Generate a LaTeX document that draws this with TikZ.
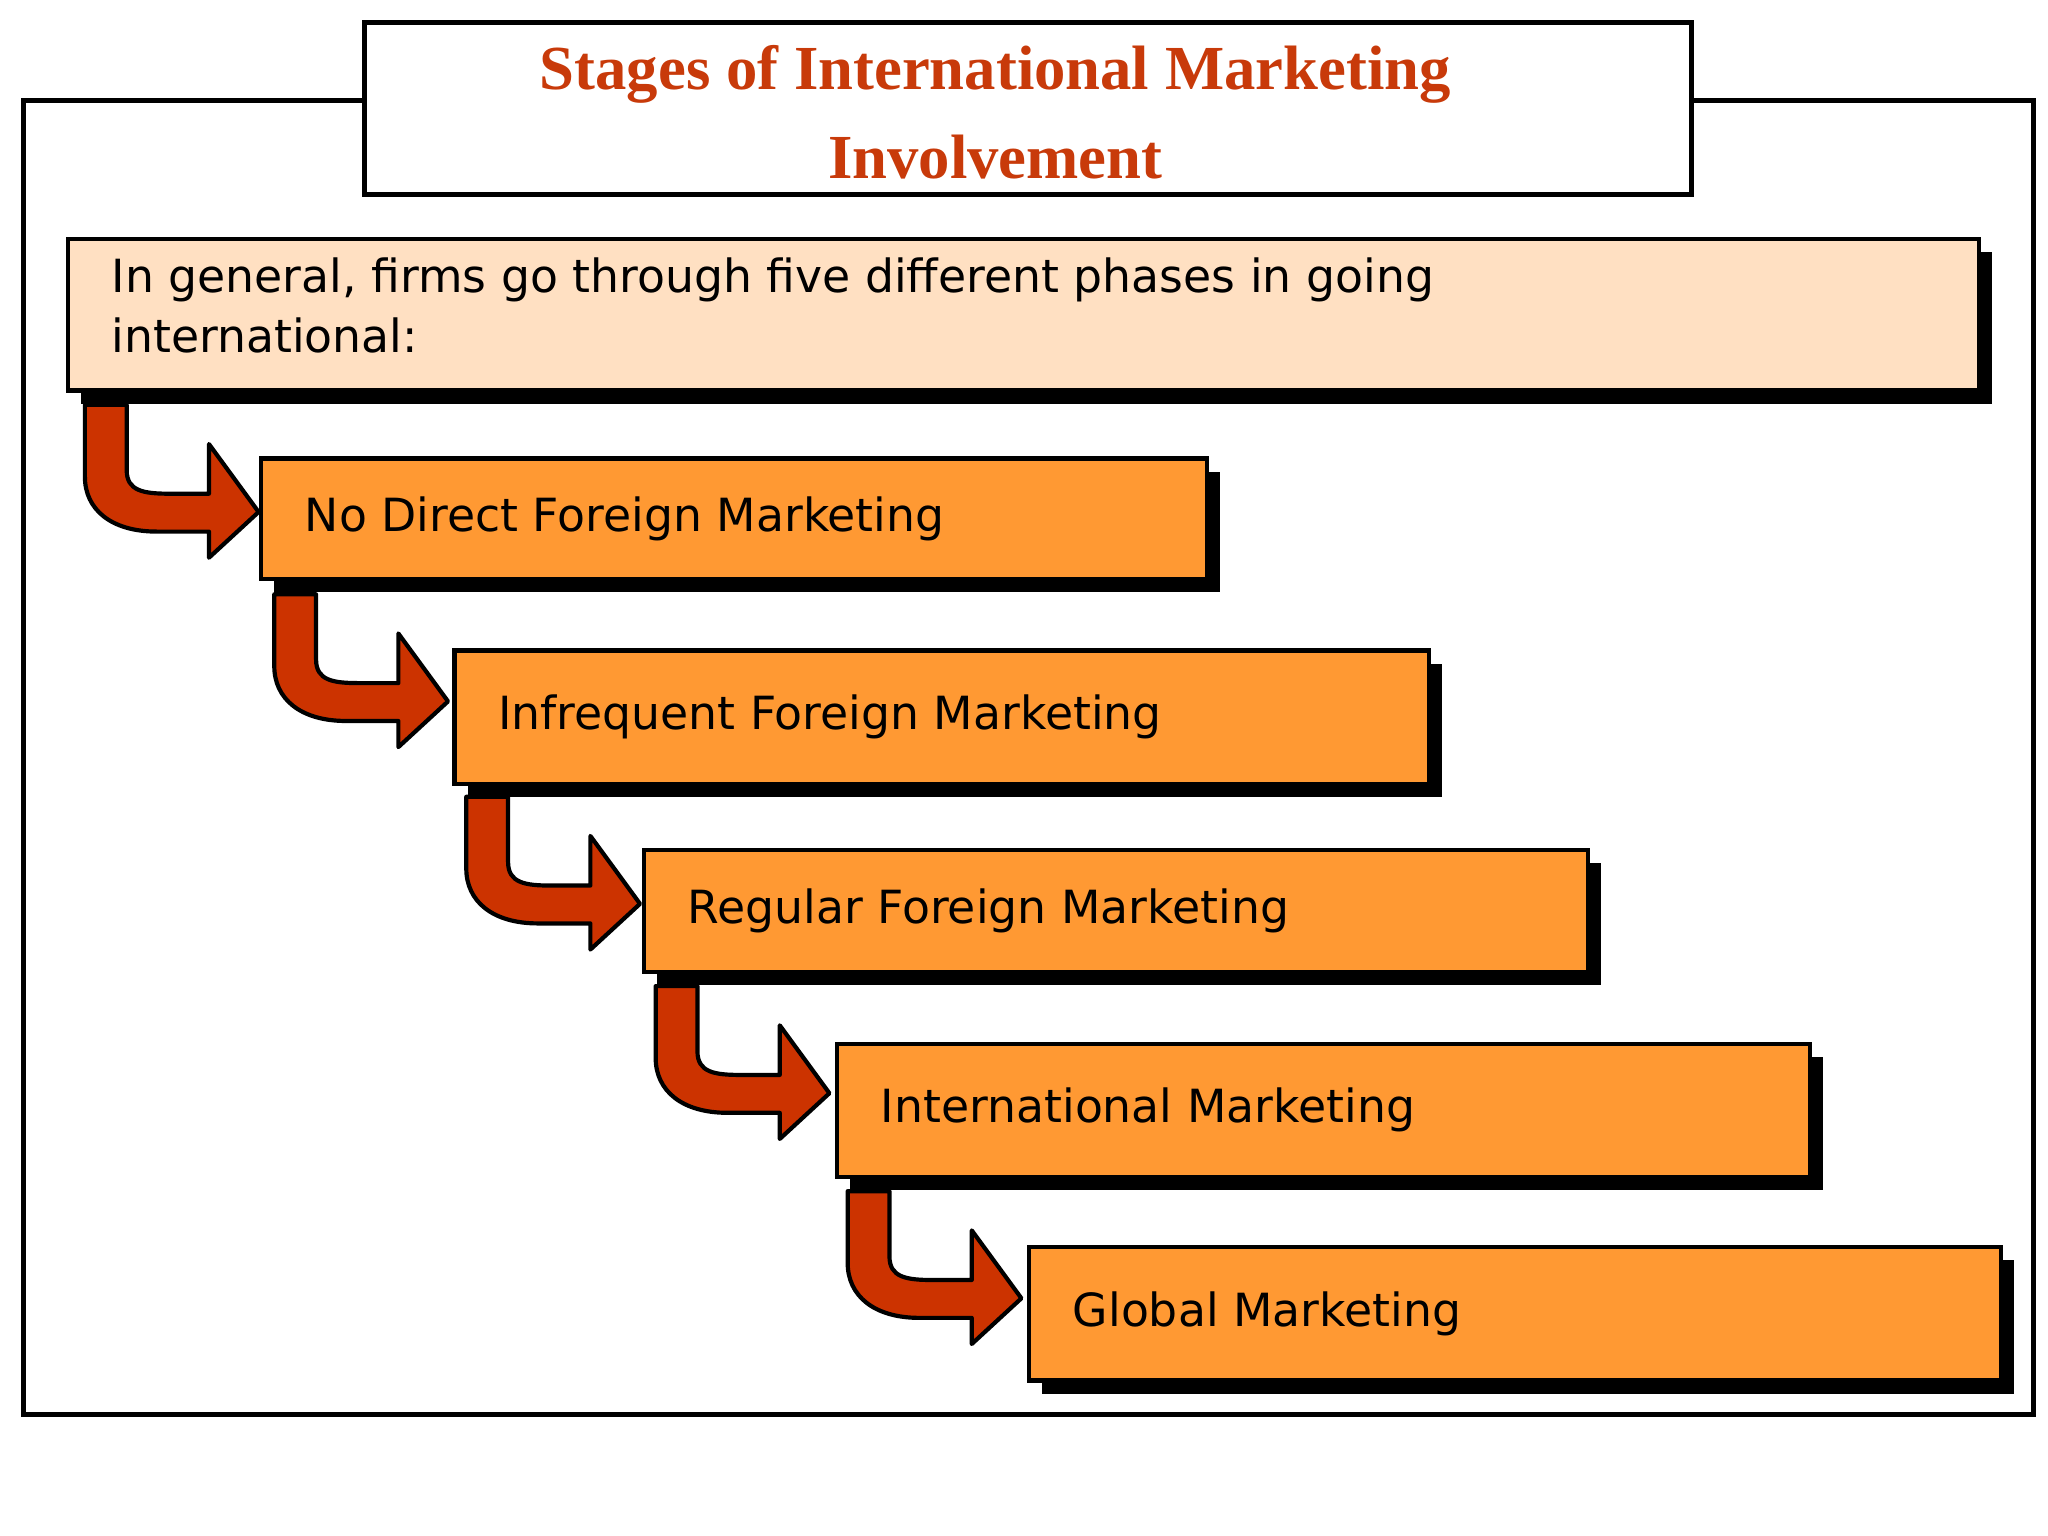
\documentclass[tikz,border=0pt]{standalone}
\usepackage{fontspec}
\setmainfont{DejaVu Sans}
\newfontfamily\titlefont{Liberation Serif}
\definecolor{boxor}{HTML}{FF9933}
\definecolor{peach}{HTML}{FFE0C2}
\definecolor{arrred}{HTML}{CC3300}
\definecolor{ttlred}{HTML}{C83A0A}
\tikzset{
  shad/.style={fill=black,draw=none},
  stagebox/.style={draw=black,line width=1.6pt,fill=boxor,anchor=north west,inner sep=0pt,
     font=\fontsize{17.5}{22}\selectfont,align=left,text width=#1},
  bendarrow/.style={fill=arrred,draw=black,line width=1.6pt,line join=round}
}
\newcommand{\bendarr}[2]{%
 \begin{scope}[shift={(#1,#2)}]
 \draw[bendarrow] (0,0) -- (32,0) -- (32,50) .. controls (32,66) and (45,68) .. (65,68)
   -- (95,68) -- (95,30) -- (133,82) -- (95,117) -- (95,97) -- (55,97)
   .. controls (20,97) and (0,80) .. (0,55) -- cycle;
 \end{scope}}
\begin{document}
\begin{tikzpicture}[x=0.5pt,y=-0.5pt]
\useasboundingbox[fill=white] (0,0) rectangle (1568,1176);
\draw[line width=2pt] (18,77) rectangle (1557,1083);
\draw[line width=2pt,fill=white] (279,17) rectangle (1295,149);
\node[font=\titlefont\bfseries\fontsize{24}{34}\selectfont,text=ttlred,align=center] (title) at (762,86) {Stages of International Marketing\\Involvement};
% intro
\fill[shad] (62,193) rectangle (1525,309);
\draw[line width=1.6pt,fill=peach] (52,183) rectangle (1515,299);
\node[anchor=north west,font=\fontsize{17.5}{23}\selectfont,align=left,inner sep=0pt] (intro) at (85,197) {In general, firms go through five different phases in going\\international:};
% arrows
\bendarr{65}{310}
\bendarr{210}{455}
\bendarr{357}{610}
\bendarr{502}{755}
\bendarr{649}{912}
% boxes
\def\stg#1#2#3#4#5#6{%
 \fill[shad] (#1+10,#2+10) rectangle (#3+10,#4+10);
 \draw[line width=1.6pt,fill=boxor] (#1,#2) rectangle (#3,#4);
 \node[anchor=west,font=\fontsize{17.5}{22}\selectfont,inner sep=0pt] (#5) at (#1+33,{(#2+#4)/2}) {#6};}
\stg{200}{351}{924}{443}{s1}{No Direct Foreign Marketing}
\stg{348}{498}{1094}{600}{s2}{Infrequent Foreign Marketing}
\stg{493}{651}{1216}{744}{s3}{Regular Foreign Marketing}
\stg{641}{799}{1386}{901}{s4}{International Marketing}
\stg{788}{955}{1532}{1057}{s5}{Global Marketing}
\end{tikzpicture}
\end{document}
